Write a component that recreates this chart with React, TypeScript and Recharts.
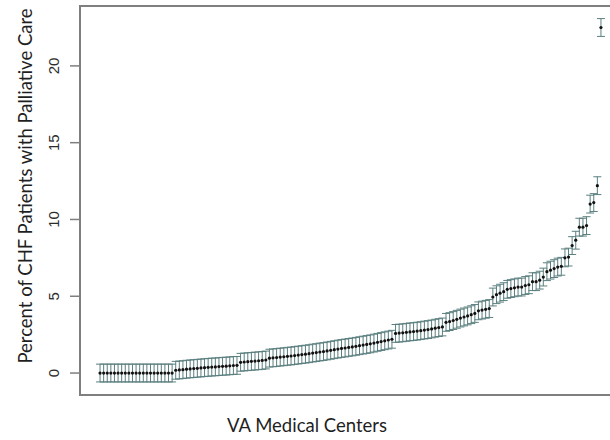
import { ScatterChart, Scatter, XAxis, YAxis, ErrorBar, ReferenceArea, Label } from 'recharts'

// percent of CHF patients with palliative care, one value per VA medical center (sorted)
const zeroCenters = [0, 0, 0, 0, 0, 0, 0, 0, 0, 0, 0, 0, 0, 0, 0, 0, 0, 0, 0, 0, 0]
const lowCenters = [0.18, 0.2, 0.22, 0.25, 0.27, 0.29, 0.31, 0.33, 0.35, 0.37, 0.39, 0.4, 0.42, 0.44, 0.45, 0.47, 0.49, 0.5]
const smallCenters = [0.7, 0.72, 0.74, 0.76, 0.78, 0.8, 0.82, 0.85]
const midCenters = [
    0.97, 0.99, 1.01, 1.04, 1.06, 1.09, 1.11, 1.14, 1.17, 1.2, 1.23, 1.26, 1.3, 1.33, 1.37, 1.4, 1.44, 1.48,
    1.52, 1.56, 1.6, 1.63, 1.67, 1.7, 1.74, 1.78, 1.82, 1.86, 1.9, 1.95, 2.0, 2.05, 2.1, 2.15, 2.2,
]
const upperCenters = [2.58, 2.6, 2.62, 2.65, 2.68, 2.7, 2.73, 2.76, 2.8, 2.83, 2.87, 2.92, 2.96, 3.0]
const highCenters = [3.3, 3.35, 3.42, 3.5, 3.58, 3.65, 3.72, 3.8, 3.88, 4.05, 4.1, 4.15, 4.2]
const topCenters = [
    4.95, 5.1, 5.2, 5.3, 5.45, 5.5, 5.55, 5.6, 5.6, 5.7, 5.75, 5.95, 5.95, 6.05, 6.25, 6.6, 6.7, 6.8, 6.9,
    6.95, 7.5, 7.55, 8.3, 8.65, 9.5, 9.5, 9.6, 11.0, 11.1, 12.2, 22.5,
]
const CI_HALF = 0.58
const yTicks = [0, 5, 10, 15, 20]

const rates = [...zeroCenters, ...lowCenters, ...smallCenters, ...midCenters, ...upperCenters, ...highCenters, ...topCenters]
const data = rates.map((rate, i) => ({ center: i + 1, rate, ci: CI_HALF }))

const n = rates.length
const pad = (n - 1) * 0.04
const xDomain = [1 - pad, n + pad]
const yDomain = [-1.43, 23.9]

const GREY = '#7f7f7f'

const YTick = (props: any) => {
    const { x, y, payload } = props
    return (
        <text
            x={x - 9}
            y={y}
            transform={`rotate(-90, ${x - 9}, ${y})`}
            textAnchor="middle"
            fontFamily="'Liberation Sans', Arial, sans-serif"
            fontSize={15}
            fill="#2b2b2b"
        >
            {payload.value}
        </text>
    )
}

const Dot = (props: any) => <circle cx={props.cx} cy={props.cy} r={1.6} fill="#111" />

export default function App() {
    return (
        <div style={{ position: 'absolute', left: 0, top: 0, width: 610, height: 440, overflow: 'hidden', background: '#fff' }}>
            <ScatterChart width={622} height={440} margin={{ top: 6, right: 1, bottom: 0, left: 0 }}>
                <XAxis
                    type="number"
                    dataKey="center"
                    domain={xDomain}
                    height={45}
                    tick={false}
                    tickLine={false}
                    axisLine={false}
                >
                    <Label
                        content={() => (
                            <text x={307} y={432} textAnchor="middle" fontFamily="Lato, sans-serif" fontSize={18.5} fill="#1f1f1f">
                                VA Medical Centers
                            </text>
                        )}
                    />
                </XAxis>
                <YAxis
                    type="number"
                    dataKey="rate"
                    domain={yDomain}
                    ticks={yTicks}
                    width={80}
                    axisLine={false}
                    tickSize={10}
                    tickLine={{ stroke: GREY, strokeWidth: 1.5 }}
                    tick={<YTick />}
                >
                    <Label
                        content={() => (
                            <text
                                x={32}
                                y={186}
                                transform="rotate(-90, 32, 186)"
                                textAnchor="middle"
                                fontFamily="Lato, sans-serif"
                                fontSize={18.5}
                                fill="#1f1f1f"
                            >
                                Percent of CHF Patients with Palliative Care
                            </text>
                        )}
                    />
                </YAxis>
                <ReferenceArea
                    x1={xDomain[0]}
                    x2={xDomain[1]}
                    y1={yDomain[0]}
                    y2={yDomain[1]}
                    fill="none"
                    stroke={GREY}
                    strokeWidth={2}
                />
                <Scatter data={data} shape={<Dot />} isAnimationActive={false}>
                    <ErrorBar dataKey="ci" direction="y" width={4} stroke="#5b7f7f" strokeWidth={1} isAnimationActive={false} />
                </Scatter>
            </ScatterChart>
        </div>
    )
}
